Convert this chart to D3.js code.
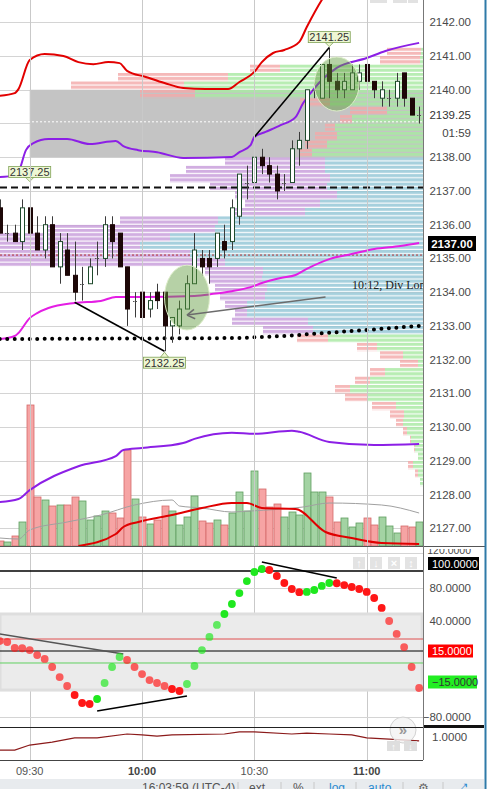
<!DOCTYPE html>
<html><head><meta charset="utf-8">
<script src="https://cdn.jsdelivr.net/npm/d3@7"></script>
<style>
html,body{margin:0;padding:0;background:#fff;overflow:hidden}
svg{display:block;font-family:"Liberation Sans",Arial,sans-serif}
</style></head><body>
<svg id="c" width="496" height="802"></svg>
<script>
// ---------------- DATA ----------------
const times = ["09:22","09:24","09:26","09:28","09:30","09:32","09:34","09:36","09:38","09:40",
"09:42","09:44","09:46","09:48","09:50","09:52","09:54","09:56","09:58","10:00",
"10:02","10:04","10:06","10:08","10:10","10:12","10:14","10:16","10:18","10:20",
"10:22","10:24","10:26","10:28","10:30","10:32","10:34","10:36","10:38","10:40",
"10:42","10:44","10:46","10:48","10:50","10:52","10:54","10:56","10:58","11:00",
"11:02","11:04","11:06","11:08","11:10","11:12","11:14"];
const open  = [2136.5,2135.75,2135.75,2135.5,2136.5,2135.75,2135.25,2136,2134.75,2135.25,
2134.5,2134.25,2134.25,2135,2135,2136,2135.75,2134.75,2133.75,2134,
2133.5,2134,2134,2133,2133,2133.5,2134.25,2135,2135,2135,
2135.5,2135.5,2136.25,2137.25,2137.25,2138,2137.75,2137.5,2137.25,2137.25,
2138.25,2138.5,2140,2139.75,2140.75,2140.25,2140,2140,2140.25,2140.75,
2140.25,2139.75,2139.75,2139.75,2140.5,2139.75,2139.25];
const high  = [2136.75,2136,2136,2136.75,2137.25,2136.25,2136.25,2136.25,2135.75,2135.75,
2135.5,2134.75,2135,2135.5,2136.25,2136.25,2135.75,2134.75,2134,2134,
2134,2134.25,2134,2133.25,2133.75,2134.5,2135.75,2135.25,2135.25,2135.75,
2136,2136.75,2137.5,2137.75,2138.25,2138.25,2138,2137.75,2137.5,2138.5,
2138.75,2140,2140.25,2140.75,2141.25,2140.5,2140.5,2140.75,2140.75,2140.75,
2140.25,2140.25,2140,2140.5,2140.5,2139.75,2139.5];
const low   = [2135.75,2135.5,2135.5,2135.25,2135.75,2135.25,2135,2134.75,2134.25,2134.5,
2133.75,2133.75,2134.25,2134.5,2134.75,2135,2134.75,2133,2133.25,2133,
2133.25,2133.5,2132.25,2132.5,2132.75,2133.5,2134.25,2134.5,2134.25,2134.75,
2135,2135.25,2136,2136.75,2137.25,2137.5,2137.25,2136.75,2137,2137.25,
2137.75,2138.25,2139.75,2139.75,2139.75,2139.75,2139.75,2140,2140,2140,
2139.75,2139.5,2139.5,2139.5,2139.5,2139.25,2139];
const close = [2135.75,2135.75,2135.5,2136.5,2135.75,2135.25,2136,2134.75,2135.5,2134.5,
2134,2134.25,2134.75,2135,2136,2135.5,2134.75,2133.5,2133.75,2133.25,
2133.75,2133.75,2133,2133.25,2133.5,2134.25,2135.25,2134.75,2134.75,2135.75,
2135.25,2136.5,2137.5,2137.25,2138,2137.75,2137.5,2137,2137.25,2138.25,
2138.5,2140,2140,2140.75,2140.25,2140,2140.25,2140.5,2140.5,2140.25,
2140,2140,2139.75,2140.25,2139.75,2139.25,2139.25];
const volume = [500,400,1000,2400,14100,4900,4600,4000,4100,4100,
4900,4500,2600,3000,3500,3300,2800,9600,4700,2900,
2200,2600,4000,3500,2100,2900,5000,2500,2300,2600,
2100,3300,5400,3500,7500,5700,3900,4200,2900,3400,
3100,7300,5400,5400,4900,2400,2800,1900,2300,2800,
2100,2900,2000,1300,2000,1900,2400];
const oscValues = [23.3,22.5,17.5,17.3,15.8,11.1,7.3,-0.5,-10.2,-22.4,
-39.1,-54.0,-55.9,-46.6,-16.9,-0.5,9.2,6.3,-0.5,-7.3,
-13.1,-16.9,-22.4,-28.0,-31.7,-18.7,0.5,15.8,26.7,36.7,
48.5,60.6,73.9,88.2,98.8,102.2,101.1,94.1,85.9,78.8,
75.0,75.3,77.6,82.4,85.9,85.6,83.5,81.2,78.8,75.2,
67.9,55.8,40.0,29.2,18.3,-0.5,-26.1];

// price-scale indicator lines [time, price]
const redBand = [["09:22",2139.82],["09:26",2139.90],["09:27",2140.02],["09:30",2140.88],["09:34",2141.06],["09:39",2141.00],["09:43",2140.82],["09:47",2140.76],["09:51",2140.82],["09:54",2140.79],["09:56",2140.56],["10:01",2140.38],["10:06",2140.20],["10:11",2140.05],["10:17",2140.02],["10:23",2140.02],["10:26",2140.23],["10:30",2140.53],["10:32",2140.82],["10:35",2141.09],["10:38",2141.18],["10:42",2141.42],["10:44",2141.86],["10:48",2142.66],["10:52",2143.25]];
const purpleBand = [["09:22",2137.41],["09:26",2137.47],["09:27",2137.56],["09:29",2138.21],["09:31",2138.42],["09:35",2138.54],["09:40",2138.54],["09:46",2138.39],["09:53",2138.48],["09:55",2138.33],["09:59",2138.21],["10:04",2138.15],["10:11",2137.98],["10:24",2138.01],["10:26",2138.15],["10:29",2138.36],["10:30",2138.60],["10:33",2138.75],["10:37",2138.95],["10:41",2139.19],["10:43",2139.60],["10:45",2139.90],["10:48",2140.29],["10:52",2140.65],["11:00",2140.94],["11:05",2141.15],["11:14",2141.39]];
const vwapLine = [["09:22",2132.61],["09:26",2132.70],["09:27",2132.79],["09:30",2133.23],["09:32",2133.38],["09:35",2133.53],["09:42",2133.68],["09:49",2133.74],["09:53",2133.86],["10:00",2133.86],["10:14",2133.89],["10:19",2133.95],["10:24",2134.03],["10:29",2134.15],["10:32",2134.27],["10:37",2134.42],["10:41",2134.51],["10:44",2134.69],["10:50",2134.98],["10:56",2135.13],["11:02",2135.28],["11:09",2135.37],["11:14",2135.46]];
const lowerBand = [["09:22",2127.78],["09:27",2127.87],["09:30",2128.13],["09:43",2128.84],["09:53",2129.14],["09:55",2129.32],["10:00",2129.38],["10:11",2129.53],["10:14",2129.65],["10:24",2129.83],["10:30",2129.80],["10:40",2129.89],["10:42",2129.86],["10:50",2129.56],["11:02",2129.47],["11:14",2129.50]];
const dottedLine = [["09:22",2132.61],["10:26",2132.64],["10:38",2132.70],["10:49",2132.79],["11:00",2132.88],["11:14",2133.00]];
// volume moving averages [time, volume]
const volAvgGrey = [["09:22",800],["09:27",700],["09:30",1600],["09:40",2400],["09:49",3100],["09:58",4100],["10:08",4600],["10:10",4000],["10:16",3800],["10:24",3400],["10:29",3500],["10:43",3900],["10:50",4300],["11:04",4100],["11:14",3300]];
const volAvgRed = [["09:43",0],["09:53",1200],["09:55",1900],["09:59",2400],["10:08",3100],["10:16",3800],["10:24",4300],["10:28",4300],["10:32",3800],["10:41",3700],["10:49",1400],["10:56",800],["11:04",300],["11:14",200]];
// volume profile rows (lower price of each 0.25 row)
const profilePrices = [2141.0,2140.75,2140.5,2140.25,2140.0,2139.75,2139.5,2139.25,2139.0,2138.75,2138.5,2138.25,2138.0,2137.75,2137.5,2137.25,2137.0,2136.75,2136.5,2136.25,2136.0,2135.75,2135.5,2135.25,2135.0,2134.75,2134.5,2134.25,2134.0,2133.75,2133.5,2133.25,2133.0,2132.75,2132.5,2132.25,2132.0,2131.75,2131.5,2131.25,2131.0,2130.75,2130.5,2130.25,2130.0,2129.75,2129.5,2129.25,2129.0,2128.75,2128.5,2128.25];
const profileUp = [20,30,1430,1950,2390,2280,930,360,710,880,860,960,1110,980,980,930,960,860,1030,1180,2050,2080,2530,2830,2330,1980,1600,1610,1560,1580,1760,1760,1150,1100,950,460,200,50,380,530,730,550,270,190,200,160,120,80,50,100,50,30];
const profileDown = [340,400,300,1100,1130,550,300,370,120,100,220,220,120,1000,1390,1600,1170,1020,750,750,980,1700,1700,1400,1900,2250,580,520,520,450,220,120,760,500,310,200,230,180,150,150,150,230,240,140,70,40,10,10,0,50,30,0];
const valueArea = [2132.75, 2138.0];
const greyBoxTime = "09:30";
const greyBoxPrices = [2138.0, 2140.0];
const levelDashed = 2137.1, levelRed = 2135.1, levelWhite = 2139.05;
// oscillator reference levels
const oscBand = [48.5, -30];
const oscTopLine = 100, oscRedLine = 25, oscMidLine = 15, oscGreenLine = 3.4;
// bottom indicator [time, value]
const bottomLine = [["09:22",0.943],["09:26",0.943],["09:30",0.965],["09:36",0.978],["09:42",0.996],["09:48",0.996],["09:56",1.013],["10:00",1.009],["10:04",1.004],["10:08",1.009],["10:22",1.013],["10:26",1.022],["10:30",1.022],["10:40",1.013],["10:44",1.017],["10:50",1.013],["10:56",1.009],["11:00",0.996],["11:06",0.991],["11:14",0.983]];
// axis ticks
const priceTicks = [2142,2141,2140,2138,2137,2136,2135,2134,2133,2132,2131,2130,2129,2128,2127];
const oscTicks = [120,80,40,-80];
const timeTicks = ["09:30","10:00","10:30","11:00"];
// drawings
const trendUp = [["10:30",2138.6],["10:50",2141.25]];
const trendDown = [["09:42",2133.7],["10:06",2132.25]];
const arrowLine = [["10:12",2133.32],["10:49",2133.86]];
const oscTrendGrey = [["09:22",29.2],["09:55",12.1]];
const oscTrendLow = [["09:48",-68.9],["10:12",-41]];
const oscTrendHigh = [["10:32",110],["10:52",91.8]];
const priceLabels = [{t:"10:50",p:2141.25,pos:"above"},{t:"09:30",p:2137.25,pos:"above"},{t:"10:06",p:2132.25,pos:"below"}];
const ellipses = [{t:"10:12",p:2133.84,rm:6,rp:0.96},{t:"10:52",p:2140.17,rm:6,rp:0.8}];
const noteText = {t:"10:12", label:"10:12, Div Lon", p:2134.2};

// ---------------- SCALES ----------------
const parseT = d3.timeParse("%H:%M");
const PR = 423;
const x = d3.scaleTime().domain([parseT("09:30"), parseT("11:00")]).range([29.7, 366.7]);
const y = d3.scaleLinear().domain([2127, 2142]).range([528.3, 22.3]);
const yVol = d3.scaleLinear().domain([0, 16000]).range([546, 386]);
const yOsc = d3.scaleLinear().domain([-80,-15,15,40,80,100,120]).range([717,682,651,621,588,571,553]);
const yBot = d3.scaleLinear().domain([0.8,1.2]).range([783,691]);
const xProf = d3.scaleLinear().domain([0, 4230]).range([PR, 0]);
const X = t => x(parseT(t));

const bars = times.map((t,i)=>({t, o:open[i], h:high[i], l:low[i], c:close[i], v:volume[i], osc:oscValues[i]}));

const svg = d3.select("#c");
svg.append("rect").attr("width",496).attr("height",802).attr("fill","#fff");
const defs = svg.append("defs");
function clip(id,x0,y0,w,h){defs.append("clipPath").attr("id",id).append("rect").attr("x",x0).attr("y",y0).attr("width",w).attr("height",h);}
clip("cMain",0,0,PR,546); clip("cOsc",0,547,PR,175); clip("cBot",0,728,PR,32);
clip("cOscAxis",424,549,62,175); clip("cTool",0,779,486,10);

// stripe patterns for profile
const rowH = y(2140) - y(2140.25);
function stripe(id,color){
  const p = defs.append("pattern").attr("id",id).attr("patternUnits","userSpaceOnUse")
    .attr("width",10).attr("height",rowH/2).attr("y",y(2141.25));
  p.append("rect").attr("width",10).attr("height",rowH/2-1.1).attr("fill",color);
}
stripe("pGreen","#a9eaa3"); stripe("pPink","#f4aaaa"); stripe("pBlue","#93c6d6"); stripe("pPurple","#c89ddb");

const main = svg.append("g").attr("clip-path","url(#cMain)");
const line = (xs,ys)=>d3.line().x(xs).y(ys);

// grid
main.selectAll("line.hg").data(y.ticks(15)).join("line")
  .attr("x1",0).attr("x2",PR).attr("y1",d=>Math.round(y(d))+0.5).attr("y2",d=>Math.round(y(d))+0.5)
  .attr("stroke","#d4d4d4");
svg.selectAll("line.vg").data(timeTicks).join("line")
  .attr("x1",d=>Math.round(X(d))+0.5).attr("x2",d=>Math.round(X(d))+0.5).attr("y1",0).attr("y2",760)
  .attr("stroke","#c9c9c9");

// grey box
main.append("rect").attr("x",X(greyBoxTime)).attr("width",PR-X(greyBoxTime))
  .attr("y",y(greyBoxPrices[1])).attr("height",y(greyBoxPrices[0])-y(greyBoxPrices[1]))
  .attr("fill","#c4c4c4");

// volume profile
const prof = profilePrices.map((p,i)=>({p, up:profileUp[i], dn:profileDown[i], va: p>=valueArea[0] && p<valueArea[1]}));
const gP = main.append("g").attr("opacity",0.82);
gP.selectAll("rect.up").data(prof).join("rect")
  .attr("x",d=>xProf(d.up)).attr("width",d=>PR-xProf(d.up))
  .attr("y",d=>y(d.p+0.25)).attr("height",rowH)
  .attr("fill",d=>d.va?"url(#pBlue)":"url(#pGreen)");
gP.selectAll("rect.dn").data(prof).join("rect")
  .attr("x",d=>xProf(d.up+d.dn)).attr("width",d=>xProf(d.up)-xProf(d.up+d.dn))
  .attr("y",d=>y(d.p+0.25)).attr("height",rowH)
  .attr("fill",d=>d.va?"url(#pPurple)":"url(#pPink)");

// horizontal levels
main.append("line").attr("x1",0).attr("x2",PR).attr("y1",y(levelWhite)).attr("y2",y(levelWhite))
  .attr("stroke","#fff").attr("stroke-dasharray","2,2");
main.append("line").attr("x1",0).attr("x2",PR).attr("y1",y(levelRed)).attr("y2",y(levelRed))
  .attr("stroke","#b03030").attr("stroke-dasharray","2,2");
main.append("line").attr("x1",0).attr("x2",PR).attr("y1",y(levelDashed)).attr("y2",y(levelDashed))
  .attr("stroke","#111").attr("stroke-width",2).attr("stroke-dasharray","7,4");

// volume bars
const gV = main.append("g");
gV.selectAll("rect").data(bars).join("rect")
  .attr("x",d=>Math.round(X(d.t))-3.5+0.5).attr("width",7)
  .attr("y",d=>yVol(d.v)).attr("height",d=>546-yVol(d.v))
  .attr("fill",d=>d.c>=d.o?"#a3d3a3":"#f6a4a4")
  .attr("stroke",d=>d.c>=d.o?"#5f9e5f":"#d56a6a").attr("stroke-width",0.8);
main.append("path").datum(volAvgGrey).attr("fill","none").attr("stroke","#a0a0a0").attr("stroke-width",1)
  .attr("d",line(d=>X(d[0]),d=>yVol(d[1])).curve(d3.curveMonotoneX));
main.append("path").datum(volAvgRed).attr("fill","none").attr("stroke","#e00000").attr("stroke-width",2)
  .attr("d",line(d=>X(d[0]),d=>yVol(d[1])).curve(d3.curveMonotoneX));

// indicator lines
const pl = line(d=>X(d[0]),d=>y(d[1])).curve(d3.curveMonotoneX);
main.append("path").datum(lowerBand).attr("fill","none").attr("stroke","#8c1fe6").attr("stroke-width",2).attr("d",pl);
main.append("path").datum(redBand).attr("fill","none").attr("stroke","#e20000").attr("stroke-width",2).attr("d",pl);
main.append("path").datum(purpleBand).attr("fill","none").attr("stroke","#8c1fe6").attr("stroke-width",2).attr("d",pl);
main.append("path").datum(vwapLine).attr("fill","none").attr("stroke","#e41ee4").attr("stroke-width",2).attr("d",pl);
main.append("path").datum(dottedLine).attr("fill","none").attr("stroke","#000").attr("stroke-width",4)
  .attr("stroke-linecap","round").attr("stroke-dasharray","0,7.49").attr("d",line(d=>X(d[0]),d=>y(d[1])));

// candles
const gC = main.append("g");
gC.selectAll("line").data(bars).join("line")
  .attr("x1",d=>Math.round(X(d.t))+0.5).attr("x2",d=>Math.round(X(d.t))+0.5)
  .attr("y1",d=>y(d.h)).attr("y2",d=>y(d.l)).attr("stroke","#3b3b3b");
gC.selectAll("rect").data(bars.filter(d=>d.o!==d.c)).join("rect")
  .attr("x",d=>Math.round(X(d.t))-1.5).attr("width",4)
  .attr("y",d=>y(Math.max(d.o,d.c))).attr("height",d=>Math.abs(y(d.o)-y(d.c)))
  .attr("fill",d=>d.c>d.o?"#ffffff":"#1d0707")
  .attr("stroke",d=>d.c>d.o?"#1f4a2c":"#1d0707");
gC.selectAll("line.doji").data(bars.filter(d=>d.o===d.c)).join("line").attr("class","doji")
  .attr("x1",d=>Math.round(X(d.t))-2).attr("x2",d=>Math.round(X(d.t))+3)
  .attr("y1",d=>Math.round(y(d.c))+0.5).attr("y2",d=>Math.round(y(d.c))+0.5)
  .attr("stroke","#555").attr("stroke-dasharray","1.5,1");

// ellipses
main.selectAll("ellipse").data(ellipses).join("ellipse")
  .attr("cx",d=>X(d.t)).attr("cy",d=>y(d.p))
  .attr("rx",d=>x(d3.timeMinute.offset(parseT(d.t),d.rm))-X(d.t))
  .attr("ry",d=>y(d.p-d.rp)-y(d.p))
  .attr("fill","#5d9a3a").attr("fill-opacity",0.45).attr("stroke","#dcedc8").attr("stroke-width",1);

// drawings
[trendUp,trendDown].forEach(tl=>main.append("path").datum(tl).attr("fill","none").attr("stroke","#000").attr("stroke-width",1.6)
  .attr("d",line(d=>X(d[0]),d=>y(d[1]))));
main.append("path").datum(arrowLine).attr("fill","none").attr("stroke","#6c6c6c").attr("stroke-width",1.5)
  .attr("d",line(d=>X(d[0]),d=>y(d[1])));
{
  const x0=X(arrowLine[0][0]), y0=y(arrowLine[0][1]), x1=X(arrowLine[1][0]), y1=y(arrowLine[1][1]);
  const a=Math.atan2(y1-y0,x1-x0);
  [0.55,-0.55].forEach(s=>main.append("line").attr("x1",x0).attr("y1",y0)
    .attr("x2",x0+9*Math.cos(a+s)).attr("y2",y0+9*Math.sin(a+s)).attr("stroke","#6c6c6c").attr("stroke-width",1.5));
}
main.append("text").attr("x",X(noteText.t)+165).attr("y",y(noteText.p)+4).text(noteText.label)
  .attr("font-family","'Liberation Serif','Times New Roman',serif").attr("font-size",12).attr("fill","#222");

// price labels
priceLabels.forEach(d=>{
  const cx=X(d.t), py=y(d.p), w=42, h=11;
  const g=main.append("g");
  const by = d.pos==="above" ? py-16 : py+6;
  g.append("rect").attr("x",cx-w/2).attr("y",by).attr("width",w).attr("height",h)
    .attr("fill","#eef7d3").attr("stroke","#7fa255").attr("stroke-width",0.8);
  const tip = d.pos==="above" ? [[cx-4,by+h],[cx+4,by+h],[cx,py-1]] : [[cx-4,by],[cx+4,by],[cx,py+1]];
  g.append("path").attr("d","M"+tip.join("L")+"Z").attr("fill","#eef7d3").attr("stroke","#7fa255").attr("stroke-width",0.8);
  g.append("text").attr("x",cx).attr("y",by+h-1.5).attr("text-anchor","middle").attr("font-size",11).attr("fill","#333")
    .text(d3.format(".2f")(d.p));
});

// top-right buttons (cut)
[[370,17],[393,14],[408,10]].forEach(b=>svg.append("rect").attr("x",b[0]).attr("y",-6).attr("width",b[1]).attr("height",9).attr("fill","#e2e2e2"));

// ---------------- OSCILLATOR ----------------
const osc = svg.append("g").attr("clip-path","url(#cOsc)");
osc.selectAll("line.og").data([120,80,-15,-80]).join("line")
  .attr("x1",0).attr("x2",PR).attr("y1",d=>Math.round(yOsc(d))+0.5).attr("y2",d=>Math.round(yOsc(d))+0.5).attr("stroke","#d4d4d4");
const lastX = X(times[times.length-1])+3;
osc.append("rect").attr("x",0).attr("width",lastX).attr("y",yOsc(oscBand[0])).attr("height",yOsc(oscBand[1])-yOsc(oscBand[0]))
  .attr("fill","#ebebeb").attr("stroke","#dedede").attr("stroke-width",3);
osc.append("line").attr("x1",0).attr("x2",PR).attr("y1",yOsc(oscTopLine)).attr("y2",yOsc(oscTopLine)).attr("stroke","#000").attr("stroke-width",1.5);
osc.append("line").attr("x1",0).attr("x2",PR).attr("y1",yOsc(oscRedLine)).attr("y2",yOsc(oscRedLine)).attr("stroke","#e05050");
osc.append("line").attr("x1",0).attr("x2",PR).attr("y1",yOsc(oscMidLine)).attr("y2",yOsc(oscMidLine)).attr("stroke","#000");
osc.append("line").attr("x1",0).attr("x2",PR).attr("y1",yOsc(oscGreenLine)).attr("y2",yOsc(oscGreenLine)).attr("stroke","#60d060");
osc.append("path").datum(oscTrendGrey).attr("stroke","#555").attr("stroke-width",1.6).attr("fill","none").attr("d",line(d=>X(d[0]),d=>yOsc(d[1])));
[oscTrendLow,oscTrendHigh].forEach(tl=>osc.append("path").datum(tl).attr("stroke","#000").attr("stroke-width",1.6).attr("fill","none").attr("d",line(d=>X(d[0]),d=>yOsc(d[1]))));
osc.selectAll("circle").data(bars).join("circle")
  .attr("cx",d=>X(d.t)).attr("cy",d=>yOsc(d.osc)).attr("r",3.9)
  .attr("fill",(d,i)=> (i>0 && d.osc>bars[i-1].osc) ? "#1fe81f" : "#ff1717")
  .attr("fill-opacity",d=> (d.osc<oscBand[0] && d.osc>-27) ? 0.68 : 1);
// buttons
[["↑",353],["↓",370],["×",388],["↕",405]].forEach(b=>{
  svg.append("rect").attr("x",b[1]).attr("y",557).attr("width",12).attr("height",12).attr("fill","#e3e3e3");
  svg.append("text").attr("x",b[1]+6).attr("y",567).attr("text-anchor","middle").attr("font-size",11).attr("fill","#fff").attr("font-weight","bold").text(b[0]);
});

// ---------------- BOTTOM PANEL ----------------
const bot = svg.append("g").attr("clip-path","url(#cBot)");
bot.append("path").datum(bottomLine).attr("fill","none").attr("stroke","#8b1a1a").attr("stroke-width",1.2)
  .attr("d",line(d=>X(d[0]),d=>yBot(d[1])));
svg.append("circle").attr("cx",403).attr("cy",730).attr("r",13).attr("fill","#f3f3f3").attr("fill-opacity",0.8).attr("stroke","#d2d2d2");
svg.append("text").attr("x",403).attr("y",735).attr("text-anchor","middle").attr("font-size",15).attr("font-weight","bold").attr("fill","#999").text("»");
[["↑",387],["↓",404]].forEach(b=>{
  svg.append("rect").attr("x",b[1]).attr("y",741).attr("width",13).attr("height",10).attr("fill","#dedede");
  svg.append("text").attr("x",b[1]+6.5).attr("y",750).attr("text-anchor","middle").attr("font-size",9).attr("fill","#fff").text(b[0]);
});

// ---------------- BORDERS ----------------
svg.append("line").attr("x1",0).attr("x2",486).attr("y1",546.5).attr("y2",546.5).attr("stroke","#555");
svg.append("line").attr("x1",0).attr("x2",PR).attr("y1",727.5).attr("y2",727.5).attr("stroke","#222");
svg.append("line").attr("x1",424).attr("x2",484).attr("y1",726.5).attr("y2",726.5).attr("stroke","#111").attr("stroke-width",3);
svg.append("line").attr("x1",0).attr("x2",PR).attr("y1",760.5).attr("y2",760.5).attr("stroke","#444");
svg.append("line").attr("x1",PR+0.5).attr("x2",PR+0.5).attr("y1",0).attr("y2",760).attr("stroke","#777");
svg.append("line").attr("x1",485.5).attr("x2",485.5).attr("y1",0).attr("y2",789).attr("stroke","#2f7aa8").attr("stroke-width",2);

// ---------------- AXES TEXT ----------------
const axisG = svg.append("g").attr("font-size",11.5).attr("fill","#4a4a4a");
axisG.selectAll("text").data(priceTicks).join("text")
  .attr("x",471).attr("y",d=>y(d)+4).attr("text-anchor","end").text(d=>d3.format(".2f")(d));
svg.append("text").attr("x",471).attr("y",y(2139.25)+4).attr("text-anchor","end").attr("font-size",11.5).attr("fill","#333").text("2139.25");
svg.append("text").attr("x",471).attr("y",137).attr("text-anchor","end").attr("font-size",11.5).attr("fill","#444").text("01:59");
// last vwap label
svg.append("rect").attr("x",428).attr("y",236).attr("width",48).attr("height",15).attr("fill","#000");
svg.append("text").attr("x",452).attr("y",247.5).attr("text-anchor","middle").attr("font-size",11.5).attr("font-weight","bold").attr("fill","#fff").text("2137.00");

const oAx = svg.append("g").attr("clip-path","url(#cOscAxis)");
oAx.selectAll("text").data(oscTicks).join("text")
  .attr("x",471).attr("y",d=>d===120?554:yOsc(d)+4).attr("text-anchor","end").attr("font-size",d=>d===120?10.5:11.5).attr("fill","#4a4a4a")
  .text(d=>d3.format(".4f")(d));
[[oscTopLine,"#000","#fff",-7.5],[oscMidLine,"#ff0000","#fff",0],[-15,"#22ee22","#333",0]].forEach(b=>{
  const cy=yOsc(b[0])+b[3];
  svg.append("rect").attr("x",428).attr("y",cy-6.5).attr("width",b[0]<0?49:(b[0]>=100?51:45)).attr("height",13).attr("fill",b[1]);
  svg.append("text").attr("x",432).attr("y",cy+4).attr("font-size",11).attr("fill",b[2]).text(d3.format(".4f")(b[0]));
});
svg.append("text").attr("x",432).attr("y",741).attr("font-size",11.5).attr("fill","#4a4a4a").text(d3.format(".4f")(1));

// time axis
svg.selectAll("text.tt").data(timeTicks).join("text").attr("class","tt")
  .attr("x",d=>X(d)).attr("y",775).attr("text-anchor","middle").attr("font-size",11)
  .attr("font-weight",d=>parseT(d).getMinutes()===0?"bold":"normal")
  .attr("fill",d=>parseT(d).getMinutes()===0?"#444":"#555").text(d=>d);

// toolbar (cut)
const tb = svg.append("g").attr("clip-path","url(#cTool)");
tb.append("rect").attr("x",0).attr("y",779).attr("width",484).attr("height",12).attr("fill","#e8ebee");
[238,281,314,356,403,443].forEach(v=>tb.append("line").attr("x1",v).attr("x2",v).attr("y1",782).attr("y2",792).attr("stroke","#c8c8c8"));
[["16:03:59 (UTC-4)",142,"#555"],["ext",249,"#555"],["%",293,"#555"],["log",329,"#2a8ad0"],["auto",368,"#2a8ad0"],["⚙",418,"#666"],["⤢",458,"#2a8ad0"]]
  .forEach(t=>tb.append("text").attr("x",t[1]).attr("y",792).attr("font-size",12).attr("fill",t[2]).text(t[0]));
</script></body></html>
